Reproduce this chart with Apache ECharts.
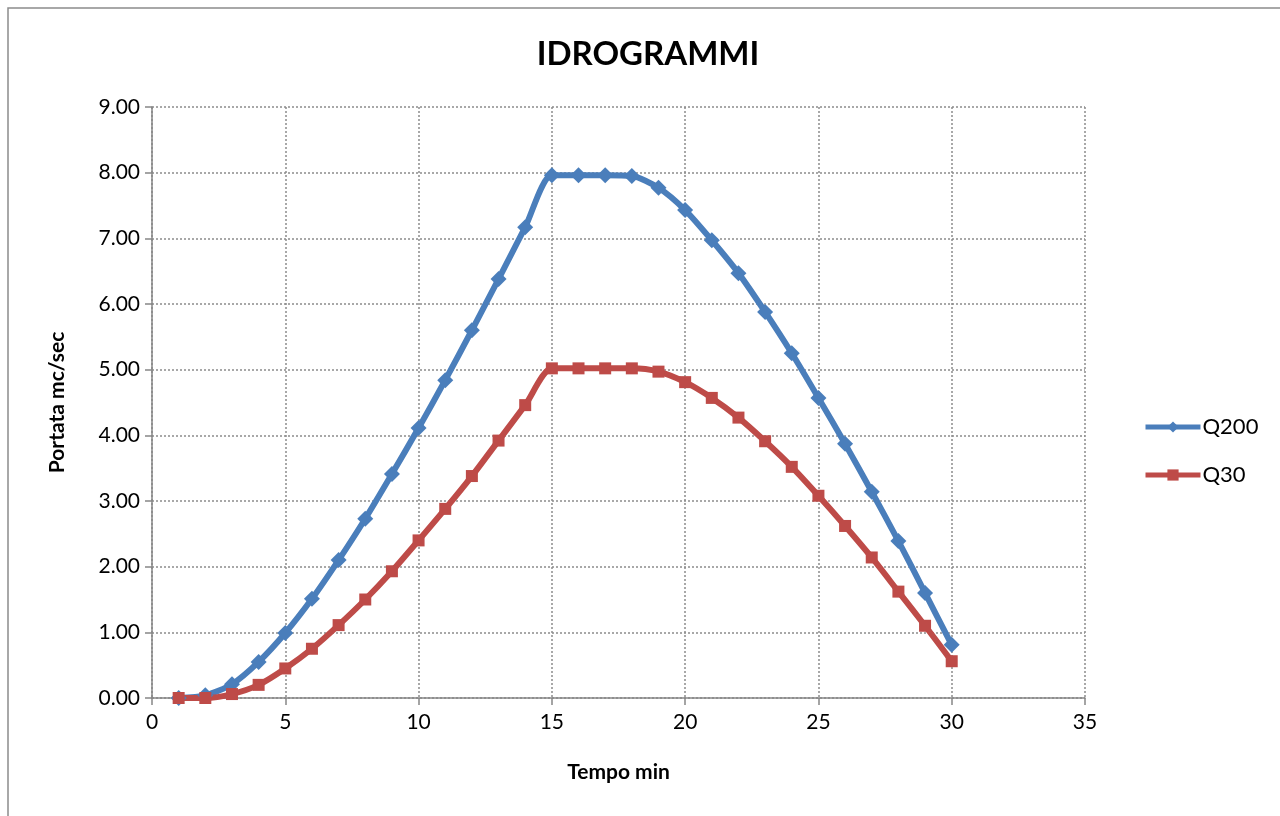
<!DOCTYPE html>
<html>
<head>
<meta charset="utf-8">
<script src="https://cdn.jsdelivr.net/npm/echarts@6/dist/echarts.min.js"></script>
<style>
  html, body { margin: 0; padding: 0; background: #fff; }
  #chart { width: 1280px; height: 816px; }
</style>
</head>
<body>
<div id="chart"></div>
<script>
const tempo = [1,2,3,4,5,6,7,8,9,10,11,12,13,14,15,16,17,18,19,20,21,22,23,24,25,26,27,28,29,30];
const q200 = [0.00,0.04,0.21,0.55,0.99,1.51,2.10,2.73,3.41,4.11,4.84,5.60,6.38,7.17,7.96,7.96,7.96,7.95,7.77,7.43,6.97,6.47,5.88,5.25,4.57,3.87,3.14,2.39,1.60,0.81];
const q30 = [0.00,0.00,0.06,0.20,0.45,0.75,1.11,1.50,1.93,2.40,2.88,3.38,3.92,4.46,5.02,5.02,5.02,5.02,4.97,4.81,4.57,4.27,3.91,3.52,3.08,2.62,2.14,1.62,1.10,0.56];

const font = 'Lato, "Open Sans", sans-serif';
const pair = (ys) => tempo.map((t, i) => [t, ys[i]]);

const chart = echarts.init(document.getElementById('chart'));
chart.setOption({
  animation: false,
  textStyle: { fontFamily: font },
  graphic: [{
    type: 'rect',
    shape: { x: 8, y: 8, width: 1400, height: 1000 },
    style: { fill: 'none', stroke: '#8c8c8c', lineWidth: 1.5 },
    silent: true
  }],
  title: {
    text: 'IDROGRAMMI',
    left: 643, top: 33, textAlign: 'center',
    textStyle: { fontFamily: font, fontSize: 33, fontWeight: 'bold', color: '#000' }
  },
  grid: { left: 152, right: 195, top: 107, bottom: 118 },
  legend: {
    orient: 'vertical',
    left: 1138, top: 411,
    itemWidth: 55, itemHeight: 14, itemGap: 26,
    lineStyle: { width: 5 },
    textStyle: { fontFamily: font, fontSize: 22, color: '#000', padding: [0, 0, 0, -3] },
    data: ['Q200', 'Q30']
  },
  xAxis: {
    type: 'value', min: 0, max: 35, interval: 5,
    name: 'Tempo min', nameLocation: 'middle', nameGap: 64,
    nameTextStyle: { fontFamily: font, fontSize: 21, fontWeight: 'bold', color: '#000' },
    axisLine: { lineStyle: { color: '#868686', width: 1.5 } },
    axisTick: { show: true, length: 7, lineStyle: { color: '#868686', width: 1.5 } },
    axisLabel: { fontFamily: font, fontSize: 21, color: '#000', margin: 14 },
    splitLine: { show: true, lineStyle: { color: '#8c8c8c', type: [2, 2], width: 1.5 } }
  },
  yAxis: {
    type: 'value', min: 0, max: 9, interval: 1,
    name: 'Portata mc/sec', nameLocation: 'middle', nameGap: 84,
    nameTextStyle: { fontFamily: font, fontSize: 21, fontWeight: 'bold', color: '#000' },
    axisLine: { show: true, lineStyle: { color: '#868686', width: 1.5 } },
    axisTick: { show: true, length: 7, lineStyle: { color: '#868686', width: 1.5 } },
    axisLabel: { fontFamily: font, fontSize: 21, color: '#000', margin: 12, formatter: (v) => v.toFixed(2) },
    splitLine: { show: true, lineStyle: { color: '#8c8c8c', type: [2, 2], width: 1.5 } }
  },
  series: [
    {
      name: 'Q200', type: 'line', data: pair(q200), smooth: 0.25,
      symbol: 'diamond', symbolSize: 16,
      lineStyle: { color: '#4a7ebb', width: 6 },
      itemStyle: { color: '#4a7ebb' }
    },
    {
      name: 'Q30', type: 'line', data: pair(q30), smooth: 0.25,
      symbol: 'rect', symbolSize: 12,
      lineStyle: { color: '#be4b48', width: 6 },
      itemStyle: { color: '#be4b48' }
    }
  ]
});
</script>
</body>
</html>
